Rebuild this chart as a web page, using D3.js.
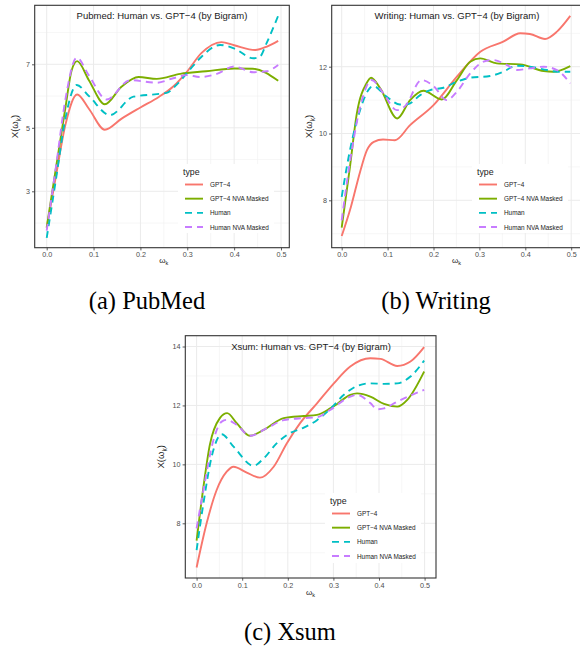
<!DOCTYPE html>
<html>
<head>
<meta charset="utf-8">
<script src="https://cdn.jsdelivr.net/npm/d3@7"></script>
<style>
  html, body { margin: 0; padding: 0; background: #fff; }
  svg { display: block; }
</style>
</head>
<body>
<svg id="chart" width="580" height="646"></svg>
<script>
// ---------------- DATA ----------------
const seriesNames = ["GPT\u22124", "GPT\u22124 NVA Masked", "Human", "Human NVA Masked"];
const xTicks = [0, 0.1, 0.2, 0.3, 0.4, 0.5];
const xMinor = [0.05, 0.15, 0.25, 0.35, 0.45];

// (a) PubMed
const pubmedTitle = "Pubmed: Human vs. GPT\u22124 (by Bigram)";
const pubmedYTicks = [3, 5, 7];
const pubmedYMinor = [2, 4, 6, 8];
const pubmedGPT4 = [[0,1.85],[0.02,3.5],[0.04,5.1],[0.065,6.05],[0.09,5.6],[0.124,4.94],[0.16,5.29],[0.2,5.64],[0.24,5.98],[0.27,6.3],[0.3,6.78],[0.33,7.35],[0.373,7.7],[0.4,7.6],[0.445,7.45],[0.47,7.56],[0.494,7.74]];
const pubmedGPT4NVA = [[0,1.86],[0.02,3.76],[0.04,5.64],[0.053,6.8],[0.065,7.1],[0.09,6.5],[0.124,5.74],[0.16,6.3],[0.196,6.6],[0.235,6.54],[0.285,6.7],[0.34,6.78],[0.4,6.87],[0.44,6.86],[0.494,6.48]];
const pubmedHuman = [[0,1.53],[0.02,3.4],[0.04,5.3],[0.064,6.35],[0.09,6.0],[0.135,5.4],[0.185,5.98],[0.235,6.06],[0.256,6.1],[0.277,6.35],[0.302,6.77],[0.327,7.19],[0.37,7.61],[0.4,7.5],[0.441,7.19],[0.455,7.24],[0.469,7.66],[0.494,8.53]];
const pubmedHumanNVA = [[0,1.76],[0.02,3.8],[0.04,5.9],[0.064,7.21],[0.09,6.65],[0.128,5.89],[0.178,6.5],[0.235,6.42],[0.27,6.56],[0.299,6.66],[0.327,6.6],[0.363,6.7],[0.4,6.93],[0.441,6.75],[0.469,6.78],[0.494,6.98]];

// (b) Writing
const writingTitle = "Writing: Human vs. GPT\u22124 (by Bigram)";
const writingYTicks = [8, 10, 12];
const writingYMinor = [7, 9, 11, 13];
const writingGPT4 = [[0,6.93],[0.02,7.8],[0.04,8.85],[0.055,9.5],[0.07,9.75],[0.09,9.82],[0.116,9.8],[0.149,10.25],[0.2,10.85],[0.251,11.7],[0.302,12.45],[0.352,12.75],[0.389,13.0],[0.41,12.98],[0.443,12.83],[0.469,13.05],[0.498,13.52]];
const writingGPT4NVA = [[0,7.18],[0.018,9.0],[0.033,10.6],[0.054,11.5],[0.064,11.67],[0.084,11.35],[0.121,10.45],[0.149,11.0],[0.178,11.28],[0.218,11.02],[0.251,11.6],[0.28,12.15],[0.302,12.25],[0.338,12.1],[0.389,12.07],[0.44,11.87],[0.461,11.85],[0.498,12.02]];
const writingHuman = [[0,8.1],[0.018,9.5],[0.04,10.7],[0.062,11.37],[0.069,11.42],[0.098,11.1],[0.127,10.87],[0.145,10.88],[0.171,11.15],[0.193,11.3],[0.222,11.37],[0.251,11.55],[0.28,11.67],[0.323,11.72],[0.352,11.85],[0.381,12.03],[0.41,12.0],[0.447,11.9],[0.469,11.85],[0.498,11.85]];
const writingHumanNVA = [[0,7.4],[0.022,9.5],[0.044,11.0],[0.065,11.6],[0.091,11.2],[0.12,10.7],[0.138,10.82],[0.174,11.6],[0.2,11.42],[0.229,11.0],[0.251,11.25],[0.28,11.8],[0.309,12.15],[0.33,12.2],[0.36,12.05],[0.381,11.9],[0.41,11.95],[0.44,12.0],[0.469,11.9],[0.498,11.5]];

// (c) Xsum
const xsumTitle = "Xsum: Human vs. GPT\u22124 (by Bigram)";
const xsumYTicks = [8, 10, 12, 14];
const xsumYMinor = [7, 9, 11, 13];
const xsumGPT4 = [[0,6.5],[0.022,8.0],[0.044,9.13],[0.066,9.75],[0.081,9.92],[0.11,9.72],[0.139,9.55],[0.169,9.92],[0.198,10.72],[0.227,11.4],[0.264,12.07],[0.301,12.75],[0.337,13.32],[0.381,13.6],[0.403,13.58],[0.44,13.34],[0.469,13.49],[0.499,13.98]];
const xsumGPT4NVA = [[0,7.41],[0.015,9.24],[0.029,10.66],[0.051,11.57],[0.067,11.74],[0.088,11.4],[0.117,10.97],[0.147,11.17],[0.191,11.57],[0.235,11.64],[0.264,11.68],[0.293,11.9],[0.308,12.05],[0.337,12.36],[0.352,12.41],[0.381,12.3],[0.411,12.05],[0.44,11.96],[0.462,12.19],[0.499,13.15]];
const xsumHuman = [[0,7.09],[0.015,8.68],[0.033,10.26],[0.055,11.02],[0.081,10.6],[0.125,9.95],[0.147,10.2],[0.176,10.72],[0.205,11.06],[0.235,11.25],[0.264,11.5],[0.293,11.88],[0.323,12.36],[0.352,12.66],[0.381,12.75],[0.411,12.73],[0.44,12.75],[0.469,12.98],[0.499,13.52]];
const xsumHumanNVA = [[0,7.83],[0.015,9.13],[0.037,10.83],[0.055,11.45],[0.066,11.51],[0.088,11.34],[0.117,10.97],[0.154,11.23],[0.191,11.5],[0.235,11.57],[0.264,11.6],[0.293,11.85],[0.337,12.3],[0.352,12.36],[0.381,12.08],[0.396,11.87],[0.411,11.9],[0.44,12.13],[0.499,12.53]];

const captions = ["(a) PubMed", "(b) Writing", "(c) Xsum"];

// ---------------- STYLE / LAYOUT ----------------
const colors = ["#F8766D", "#7CAE00", "#00BFC4", "#C77CFF"];
const dashArr = [null, null, "7,5", "7,5"];
const FONT = "'Liberation Sans', Arial, Helvetica, sans-serif";
const SERIF = "'Liberation Serif', 'Times New Roman', serif";

const panels = [
  { title: pubmedTitle, series: [pubmedGPT4, pubmedGPT4NVA, pubmedHuman, pubmedHumanNVA],
    yTicks: pubmedYTicks, yMinor: pubmedYMinor, yDomain: [3, 7],
    rect: { x0: 34.7, x1: 289.3, y0: 5.3, y1: 247.7 },
    xr: [46.7, 281], yr: [191.3, 64.3],
    titlePos: [162, 15], legend: { x: 178, y: 164, w: 96, h: 69 },
    ylabX: 18, xlabY: 263, caption: [147, 300] },
  { title: writingTitle, series: [writingGPT4, writingGPT4NVA, writingHuman, writingHumanNVA],
    yTicks: writingYTicks, yMinor: writingYMinor, yDomain: [8, 12],
    rect: { x0: 331.7, x1: 581, y0: 5.3, y1: 247.7 },
    xr: [341.7, 571.2], yr: [200.3, 66.7],
    titlePos: [457, 15], legend: { x: 472, y: 164, w: 96, h: 69 },
    ylabX: 312, xlabY: 263, caption: [436, 300] },
  { title: xsumTitle, series: [xsumGPT4, xsumGPT4NVA, xsumHuman, xsumHumanNVA],
    yTicks: xsumYTicks, yMinor: xsumYMinor, yDomain: [8, 14],
    rect: { x0: 185.3, x1: 436, y0: 335.7, y1: 578 },
    xr: [196.6, 424.6], yr: [523.3, 346.5],
    titlePos: [311, 346], legend: { x: 325, y: 493, w: 96, h: 70 },
    ylabX: 164, xlabY: 595, caption: [290, 631] }
];

const svg = d3.select("#chart");
svg.append("rect").attr("width", 580).attr("height", 646).attr("fill", "#fff");

panels.forEach((p, pi) => {
  const g = svg.append("g");
  const r = p.rect;
  const x = d3.scaleLinear().domain([0, 0.5]).range(p.xr);
  const y = d3.scaleLinear().domain(p.yDomain).range(p.yr);

  const clipId = "clip" + pi;
  svg.append("defs").append("clipPath").attr("id", clipId)
    .append("rect").attr("x", r.x0).attr("y", r.y0).attr("width", r.x1 - r.x0).attr("height", r.y1 - r.y0);

  const grid = g.append("g").attr("clip-path", `url(#${clipId})`);
  grid.selectAll(".vmin").data(xMinor).join("line")
    .attr("x1", d => x(d)).attr("x2", d => x(d)).attr("y1", r.y0).attr("y2", r.y1)
    .attr("stroke", "#F0F0F0").attr("stroke-width", 0.6);
  grid.selectAll(".hmin").data(p.yMinor).join("line")
    .attr("y1", d => y(d)).attr("y2", d => y(d)).attr("x1", r.x0).attr("x2", r.x1)
    .attr("stroke", "#F0F0F0").attr("stroke-width", 0.6);
  grid.selectAll(".vmaj").data(xTicks).join("line")
    .attr("x1", d => x(d)).attr("x2", d => x(d)).attr("y1", r.y0).attr("y2", r.y1)
    .attr("stroke", "#EBEBEB").attr("stroke-width", 1);
  grid.selectAll(".hmaj").data(p.yTicks).join("line")
    .attr("y1", d => y(d)).attr("y2", d => y(d)).attr("x1", r.x0).attr("x2", r.x1)
    .attr("stroke", "#EBEBEB").attr("stroke-width", 1);

  const line = d3.line().x(d => x(d[0])).y(d => y(d[1])).curve(d3.curveMonotoneX);
  const lines = g.append("g").attr("clip-path", `url(#${clipId})`);
  p.series.forEach((s, si) => {
    lines.append("path").attr("d", line(s)).attr("fill", "none")
      .attr("stroke", colors[si]).attr("stroke-width", 1.9)
      .attr("stroke-dasharray", dashArr[si]).attr("stroke-linecap", "butt");
  });

  g.append("text").attr("x", p.titlePos[0]).attr("y", p.titlePos[1])
    .attr("text-anchor", "middle").attr("dominant-baseline", "central")
    .attr("font-family", FONT).attr("font-size", 9.5).attr("fill", "#1a1a1a").text(p.title);

  const L = p.legend;
  const lg = g.append("g");
  lg.append("rect").attr("x", L.x).attr("y", L.y).attr("width", L.w).attr("height", L.h).attr("fill", "#fff");
  lg.append("text").attr("x", L.x + 5).attr("y", L.y + 7.5).attr("dominant-baseline", "central")
    .attr("font-family", FONT).attr("font-size", 8.8).attr("fill", "#1a1a1a").text("type");
  const keyY = d3.scalePoint().domain(seriesNames).range([L.y + 20.5, L.y + 63]);
  seriesNames.forEach((nm, si) => {
    lg.append("line").attr("x1", L.x + 7).attr("x2", L.x + 25).attr("y1", keyY(nm)).attr("y2", keyY(nm))
      .attr("stroke", colors[si]).attr("stroke-width", 1.9).attr("stroke-dasharray", dashArr[si]);
    lg.append("text").attr("x", L.x + 32).attr("y", keyY(nm)).attr("dominant-baseline", "central")
      .attr("font-family", FONT).attr("font-size", 6.4).attr("fill", "#1a1a1a").text(nm);
  });

  g.append("rect").attr("x", r.x0).attr("y", r.y0).attr("width", r.x1 - r.x0).attr("height", r.y1 - r.y0)
    .attr("fill", "none").attr("stroke", "#333333").attr("stroke-width", 1.1);

  const xAxis = d3.axisBottom(x).tickValues(xTicks).tickFormat(d3.format(".1f")).tickSize(2.7).tickPadding(2);
  const xa = g.append("g").attr("transform", `translate(0,${r.y1})`).call(xAxis);
  const yAxis = d3.axisLeft(y).tickValues(p.yTicks).tickFormat(d3.format("d")).tickSize(2.7).tickPadding(2);
  const ya = g.append("g").attr("transform", `translate(${r.x0},0)`).call(yAxis);
  [xa, ya].forEach(a => {
    a.select(".domain").remove();
    a.selectAll(".tick line").attr("stroke", "#333333").attr("stroke-width", 0.8);
    a.selectAll(".tick text").attr("font-family", FONT).attr("font-size", 7.2).attr("fill", "#4D4D4D");
  });

  const xl = g.append("text").attr("x", (x(0) + x(0.5)) / 2).attr("y", p.xlabY)
    .attr("text-anchor", "middle").attr("font-family", FONT).attr("font-size", 8).attr("fill", "#1a1a1a");
  xl.append("tspan").text("\u03C9");
  xl.append("tspan").attr("font-size", 5.5).attr("dy", 2).text("k");

  const cy = (r.y0 + r.y1) / 2;
  const yl = g.append("text").attr("transform", `translate(${p.ylabX},${cy}) rotate(-90)`)
    .attr("text-anchor", "middle").attr("font-family", FONT).attr("font-size", 9.5).attr("fill", "#1a1a1a");
  yl.append("tspan").text("X(\u03C9");
  yl.append("tspan").attr("font-size", 6.5).attr("dy", 2.5).text("k");
  yl.append("tspan").attr("dy", -2.5).text(")");

  svg.append("text").attr("x", p.caption[0]).attr("y", p.caption[1])
    .attr("text-anchor", "middle").attr("dominant-baseline", "central")
    .attr("font-family", SERIF).attr("font-size", 24.5).attr("fill", "#000").text(captions[pi]);
});
</script>
</body>
</html>
